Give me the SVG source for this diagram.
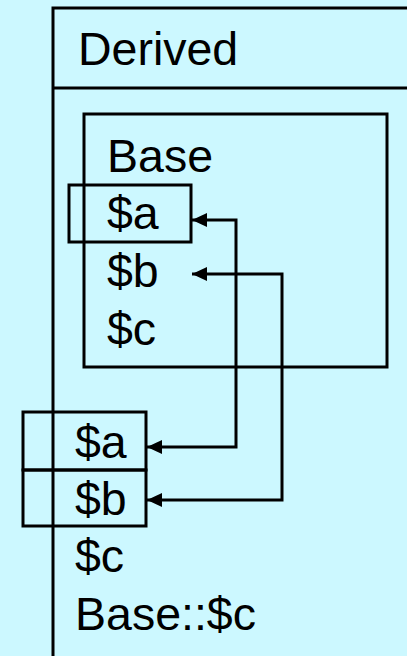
<svg xmlns="http://www.w3.org/2000/svg" width="407" height="656" viewBox="0 0 407 656">
  <style>
    .box { fill: none; stroke: #000; stroke-width: 3; }
    .lbl { font-family: "Liberation Sans", Arial, sans-serif; font-size: 46.5px; fill: #000; }
    .link { fill: none; stroke: #000; stroke-width: 3; marker-start: url(#arrow); marker-end: url(#arrow); }
  </style>
  <defs>
    <marker id="arrow" markerUnits="userSpaceOnUse" markerWidth="16" markerHeight="15" refX="15" refY="7" orient="auto-start-reverse">
      <path d="M0,0 L15,7 L0,14 z" fill="#000"/>
    </marker>
  </defs>
  <rect width="407" height="656" fill="#CCF8FF"/>

  <!-- Derived class: header and member area -->
  <g id="derived">
    <rect class="box" x="53" y="8" width="380" height="680"/>
    <line x1="53" y1="88" x2="410" y2="88" stroke="#000" stroke-width="3"/>
    <text class="lbl" x="78" y="65">Derived</text>
  </g>

  <!-- Base class nested inside Derived -->
  <g id="base">
    <rect class="box" x="84" y="114" width="303" height="253"/>
    <text class="lbl" x="107" y="172">Base</text>
    <text class="lbl" x="107" y="229">$a</text>
    <text class="lbl" x="107" y="287">$b</text>
    <text class="lbl" x="107" y="345">$c</text>
  </g>

  <!-- highlighted $a inside Base -->
  <g id="base-a">
    <rect class="box" x="69" y="185" width="122" height="57"/>
  </g>

  <!-- Derived members -->
  <g id="derived-a">
    <rect class="box" x="23" y="412" width="123" height="58"/>
    <text class="lbl" x="75" y="458">$a</text>
  </g>
  <g id="derived-b">
    <rect class="box" x="23" y="470" width="123" height="56"/>
    <text class="lbl" x="75" y="515">$b</text>
  </g>
  <g id="derived-c">
    <text class="lbl" x="75" y="572">$c</text>
  </g>
  <g id="derived-base-c">
    <text class="lbl" x="75" y="630">Base::$c</text>
  </g>

  <!-- connectors -->
  <g id="connectors">
    <path class="link" d="M192 220 H236 V447 H147"/>
    <path class="link" d="M192 274 H282 V500 H147"/>
  </g>
</svg>
